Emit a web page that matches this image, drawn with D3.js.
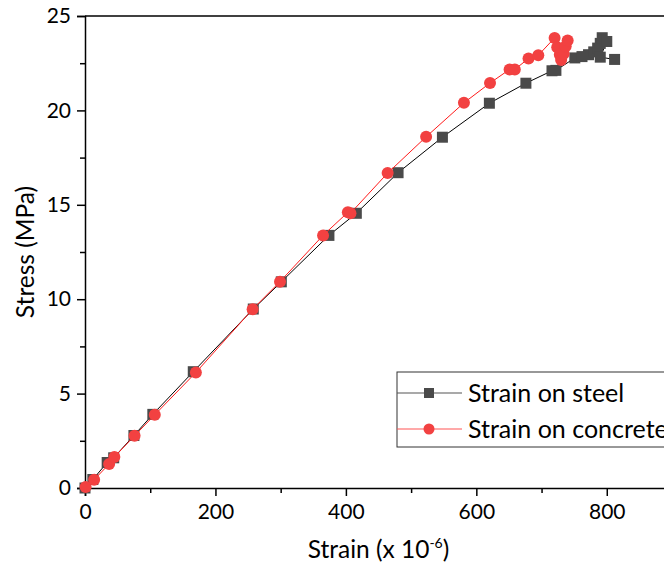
<!DOCTYPE html>
<html>
<head>
<meta charset="utf-8">
<script src="https://cdn.jsdelivr.net/npm/d3@7"></script>
<style>
  body { margin: 0; background: #fff; }
  svg { display: block; font-family: Lato, "Open Sans", sans-serif; }
</style>
</head>
<body>
<div id="chart"></div>
<script>
// strain (x 10^-6) / stress (MPa) pairs
var steelStrain = [0, 12, 34, 44, 75, 104, 166, 258, 301, 374, 416, 480, 548, 620, 676, 716, 722, 751, 762, 772, 780, 786, 790, 793, 800, 790, 812];
var steelStress = [0, 0.45, 1.35, 1.6, 2.78, 3.9, 6.16, 9.48, 10.92, 13.38, 14.55, 16.7, 18.58, 20.38, 21.44, 22.1, 22.12, 22.78, 22.85, 22.95, 23.1, 23.3, 23.55, 23.85, 23.65, 22.82, 22.7];
var concStrain = [1, 14, 37, 45, 76, 107, 170, 257, 299, 365, 403, 407, 464, 523, 581, 621, 651, 659, 680, 695, 720, 724, 728, 730, 734, 737, 740];
var concStress = [0.05, 0.44, 1.27, 1.64, 2.77, 3.88, 6.12, 9.47, 10.93, 13.38, 14.6, 14.55, 16.68, 18.6, 20.4, 21.45, 22.17, 22.17, 22.75, 22.92, 23.84, 23.35, 22.95, 22.67, 23.0, 23.4, 23.7];
var xTicks = [0, 200, 400, 600, 800];
var xMinor = [100, 300, 500, 700, 900];
var yTicks = [0, 5, 10, 15, 20, 25];
var yMinor = [2.5, 7.5, 12.5, 17.5, 22.5];
var seriesNames = ["Strain on steel", "Strain on concrete"];

var width = 664, height = 568;
var pLeft = 85, pTop = 16, pRight = 672, pBottom = 488;

var svg = d3.select('#chart').append('svg')
    .attr('width', width)
    .attr('height', height);

var x = d3.scaleLinear().domain([0, 900]).range([pLeft, pRight]);
var y = d3.scaleLinear().domain([0, 25]).range([pBottom, pTop]);

function pairs(xs, ys) {
    return xs.map(function (d, i) { return [d, ys[i]]; });
}
var steel = pairs(steelStrain, steelStress);
var conc = pairs(concStrain, concStress);

// frame
svg.append('line').attr('x1', pLeft).attr('x2', pRight).attr('y1', pTop).attr('y2', pTop)
    .attr('stroke', '#000').attr('stroke-width', 1.5);
svg.append('line').attr('x1', pRight).attr('x2', pRight).attr('y1', pTop).attr('y2', pBottom)
    .attr('stroke', '#000').attr('stroke-width', 1.5);

// axes
svg.append('g').attr('transform', 'translate(0,' + pBottom + ')')
    .call(d3.axisBottom(x).tickValues(xTicks).tickSize(8).tickPadding(8));
svg.append('g').attr('transform', 'translate(0,' + pBottom + ')')
    .call(d3.axisBottom(x).tickValues(xMinor).tickSize(5).tickFormat(''))
    .select('.domain').remove();
svg.append('g').attr('transform', 'translate(' + pLeft + ',0)')
    .call(d3.axisLeft(y).tickValues(yTicks).tickSize(8).tickPadding(6));
svg.append('g').attr('transform', 'translate(' + pLeft + ',0)')
    .call(d3.axisLeft(y).tickValues(yMinor).tickSize(5).tickFormat(''))
    .select('.domain').remove();

svg.selectAll('.domain').attr('stroke-width', 1.5);
svg.selectAll('.tick line').attr('stroke-width', 1.5);
svg.selectAll('.tick text').attr('font-size', 21).attr('font-family', 'Lato, sans-serif').attr('fill', '#000');

// titles
var xt = svg.append('text')
    .attr('x', (pLeft + pRight) / 2).attr('y', 558)
    .attr('text-anchor', 'middle').attr('font-size', 24.5);
xt.append('tspan').text('Strain (x 10');
xt.append('tspan').attr('font-size', 14).attr('dy', -10).text('-6');
xt.append('tspan').attr('dy', 10).text(')');

svg.append('text')
    .attr('transform', 'translate(34,' + (pTop + pBottom) / 2 + ') rotate(-90)')
    .attr('text-anchor', 'middle').attr('font-size', 24.5)
    .text('Stress (MPa)');

var line = d3.line().x(function (d) { return x(d[0]); }).y(function (d) { return y(d[1]); });

// steel
svg.append('path').datum(steel).attr('d', line)
    .attr('fill', 'none').attr('stroke', '#000').attr('stroke-width', 1);
svg.append('g').selectAll('rect').data(steel).enter().append('rect')
    .attr('x', function (d) { return x(d[0]) - 5.5; })
    .attr('y', function (d) { return y(d[1]) - 5.5; })
    .attr('width', 11).attr('height', 11)
    .attr('fill', '#4a4a4a');

// concrete
svg.append('path').datum(conc).attr('d', line)
    .attr('fill', 'none').attr('stroke', '#ff1a1a').attr('stroke-width', 1);
svg.append('g').selectAll('circle').data(conc).enter().append('circle')
    .attr('cx', function (d) { return x(d[0]); })
    .attr('cy', function (d) { return y(d[1]); })
    .attr('r', 6)
    .attr('fill', '#f24141');

// legend
var lg = svg.append('g');
lg.append('rect').attr('x', 397).attr('y', 372).attr('width', 300).attr('height', 75)
    .attr('fill', '#fff').attr('stroke', '#333').attr('stroke-width', 1);
var rowY = [393, 429];
lg.append('line').attr('x1', 397).attr('x2', 462).attr('y1', rowY[0]).attr('y2', rowY[0])
    .attr('stroke', '#555').attr('stroke-width', 1.2);
lg.append('rect').attr('x', 429 - 5).attr('y', rowY[0] - 5).attr('width', 10).attr('height', 10)
    .attr('fill', '#4a4a4a');
lg.append('line').attr('x1', 397).attr('x2', 462).attr('y1', rowY[1]).attr('y2', rowY[1])
    .attr('stroke', '#f55').attr('stroke-width', 1.2);
lg.append('circle').attr('cx', 429).attr('cy', rowY[1]).attr('r', 5.5)
    .attr('fill', '#f24141');
lg.selectAll('text.lab').data(seriesNames).enter().append('text')
    .attr('class', 'lab')
    .attr('x', 468)
    .attr('y', function (d, i) { return rowY[i]; })
    .attr('dy', '0.35em')
    .attr('font-size', 25)
    .text(function (d) { return d; });
</script>
</body>
</html>
